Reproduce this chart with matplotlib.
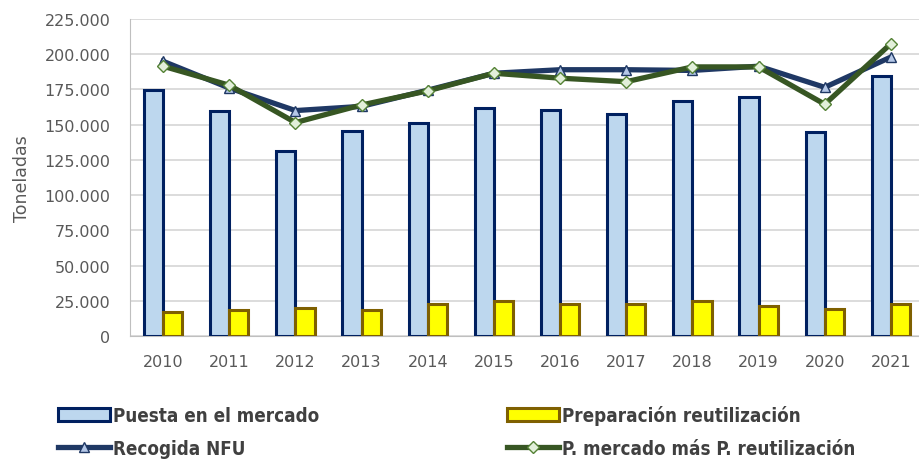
import matplotlib
matplotlib.use("Agg")
import matplotlib.pyplot as plt
import numpy as np
from matplotlib.ticker import FuncFormatter

years = ["2010", "2011", "2012", "2013", "2014", "2015",
         "2016", "2017", "2018", "2019", "2020", "2021"]
puesta_mercado = [174500, 159500, 131500, 145500, 151500, 162000,
                  160500, 157500, 166500, 169500, 145000, 184500]
prep_reutilizacion = [17000, 18500, 20000, 18500, 22500, 24500,
                      22500, 23000, 24500, 21500, 19500, 23000]
recogida_nfu = [195000, 176000, 160000, 163000, 174500, 186500,
                189000, 189000, 188500, 191500, 176500, 198000]
mercado_mas_reut = [191500, 178000, 151500, 164000, 174000, 186500,
                    183000, 180500, 191000, 191000, 164500, 207500]

ytick_vals = list(range(0, 225001, 25000))

fig = plt.figure(figsize=(9.2, 4.6), dpi=100)
ax = fig.add_axes([130 / 920, 1 - 337 / 460, 794 / 920, 317 / 460])

x = np.arange(len(years))
w = 0.29
h_puesta = ax.bar(x - w / 2, puesta_mercado, w, color="#BDD7EE", edgecolor="#002060",
                  linewidth=2.2, label="Puesta en el mercado", zorder=3)
h_prep = ax.bar(x + w / 2, prep_reutilizacion, w, color="#FFFF00", edgecolor="#7F6000",
                linewidth=2.2, label="Preparación reutilización", zorder=3)
(h_recog,) = ax.plot(x, recogida_nfu, color="#1F3864", linewidth=3.8, marker="^",
                     markersize=7, markerfacecolor="#B4C7E7", markeredgecolor="#1F3864",
                     markeredgewidth=1, label="Recogida NFU", zorder=4)
(h_suma,) = ax.plot(x, mercado_mas_reut, color="#375623", linewidth=3.8, marker="D",
                    markersize=6, markerfacecolor="#E2EFDA", markeredgecolor="#548235",
                    markeredgewidth=1, label="P. mercado más P. reutilización", zorder=5)

ax.set_xlim(-0.5, len(years) - 0.5)
ax.set_ylim(0, 225000)
ax.set_yticks(ytick_vals)
ax.yaxis.set_major_formatter(FuncFormatter(lambda v, p: f"{int(v):,}".replace(",", ".")))
ax.set_xticks(x)
ax.set_xticklabels(years)
ax.grid(axis="y", color="#D9D9D9", linewidth=1.3, zorder=0)
ax.set_axisbelow(True)
for s in ("top", "right"):
    ax.spines[s].set_visible(False)
ax.spines["left"].set_color("#BFBFBF")
ax.spines["bottom"].set_color("#BFBFBF")
ax.tick_params(axis="both", length=0, labelsize=11.5, labelcolor="#595959")
ax.tick_params(axis="x", pad=13)
ax.tick_params(axis="y", pad=14)
ax.set_ylabel("Toneladas", fontsize=12.5, color="#595959", labelpad=10)

# column-wise fill: left column = bars/line 1, right column = bars/line 2
leg = fig.legend([h_puesta, h_recog, h_prep, h_suma],
                 ["Puesta en el mercado", "Recogida NFU",
                  "Preparación reutilización", "P. mercado más P. reutilización"],
                 loc="upper left", bbox_to_anchor=(41 / 920, 1 - 389 / 460), ncol=2,
                 frameon=False, columnspacing=10, handlelength=2.8, handletextpad=0.15,
                 labelspacing=0.75,
                 prop={"family": ["Liberation Sans Narrow", "DejaVu Sans"], "size": 13.5,
                       "weight": "bold", "stretch": "condensed"})
for t in leg.get_texts():
    t.set_color("#404040")

fig.savefig("out.png", dpi=100)
